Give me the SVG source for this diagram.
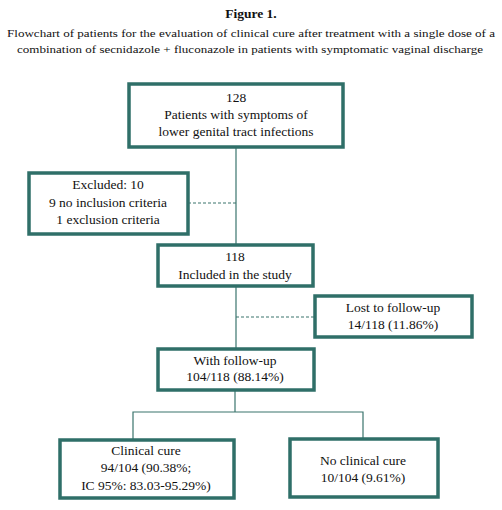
<svg xmlns="http://www.w3.org/2000/svg" width="502" height="510" viewBox="0 0 502 510">
<style>
text{font-family:"Liberation Serif","DejaVu Serif",serif;fill:#111;text-anchor:middle}
.t{font-size:13.5px}
.h{font-size:13.5px;font-weight:bold}
.s{font-size:11.2px}
.box{fill:#fff;stroke:#2f6f68;stroke-width:3.5}
.ln{fill:none;stroke:#3a746d;stroke-width:1.2}
.dash{stroke-dasharray:3 2}
</style>
<rect width="502" height="510" fill="#fff"/>
<g id="title">
<text class="h" x="251" y="18">Figure 1.</text>
<text class="s" x="251" y="37" textLength="488" lengthAdjust="spacingAndGlyphs">Flowchart of patients for the evaluation of clinical cure after treatment with a single dose of a</text>
<text class="s" x="250" y="53" textLength="466" lengthAdjust="spacingAndGlyphs">combination of secnidazole + fluconazole in patients with symptomatic vaginal discharge</text>
</g>
<g id="connectors">
<line class="ln" x1="236" y1="148" x2="236" y2="245"/>
<line class="ln dash" x1="188" y1="203" x2="236" y2="203"/>
<line class="ln" x1="236" y1="287" x2="236" y2="348"/>
<line class="ln dash" x1="236" y1="317" x2="314" y2="317"/>
<line class="ln" x1="235" y1="390" x2="235" y2="412"/>
<polyline class="ln" points="133,439 133,412 363,412 363,438"/>
</g>
<g id="n1">
<rect class="box" x="129" y="84" width="214" height="63"/>
<text class="t" x="236" y="102">128</text>
<text class="t" x="236" y="119">Patients with symptoms of</text>
<text class="t" x="236" y="136">lower genital tract infections</text>
</g>
<g id="excluded">
<rect class="box" x="29" y="173" width="159" height="61"/>
<text class="t" x="108" y="189">Excluded: 10</text>
<text class="t" x="108" y="207">9 no inclusion criteria</text>
<text class="t" x="108" y="224">1 exclusion criteria</text>
</g>
<g id="n2">
<rect class="box" x="158" y="245" width="155" height="41"/>
<text class="t" x="235" y="261">118</text>
<text class="t" x="235" y="279">Included in the study</text>
</g>
<g id="lost">
<rect class="box" x="315" y="296" width="157" height="41"/>
<text class="t" x="393" y="312">Lost to follow-up</text>
<text class="t" x="393" y="329">14/118 (11.86%)</text>
</g>
<g id="n3">
<rect class="box" x="158" y="349" width="156" height="41"/>
<text class="t" x="235" y="365">With follow-up</text>
<text class="t" x="235" y="381">104/118 (88.14%)</text>
</g>
<g id="cure">
<rect class="box" x="60" y="440" width="174" height="58"/>
<text class="t" x="146" y="455">Clinical cure</text>
<text class="t" x="146" y="472">94/104 (90.38%;</text>
<text class="t" x="146" y="490">IC 95%: 83.03-95.29%)</text>
</g>
<g id="nocure">
<rect class="box" x="290" y="439" width="148" height="58"/>
<text class="t" x="363" y="465">No clinical cure</text>
<text class="t" x="363" y="482">10/104 (9.61%)</text>
</g>
</svg>
